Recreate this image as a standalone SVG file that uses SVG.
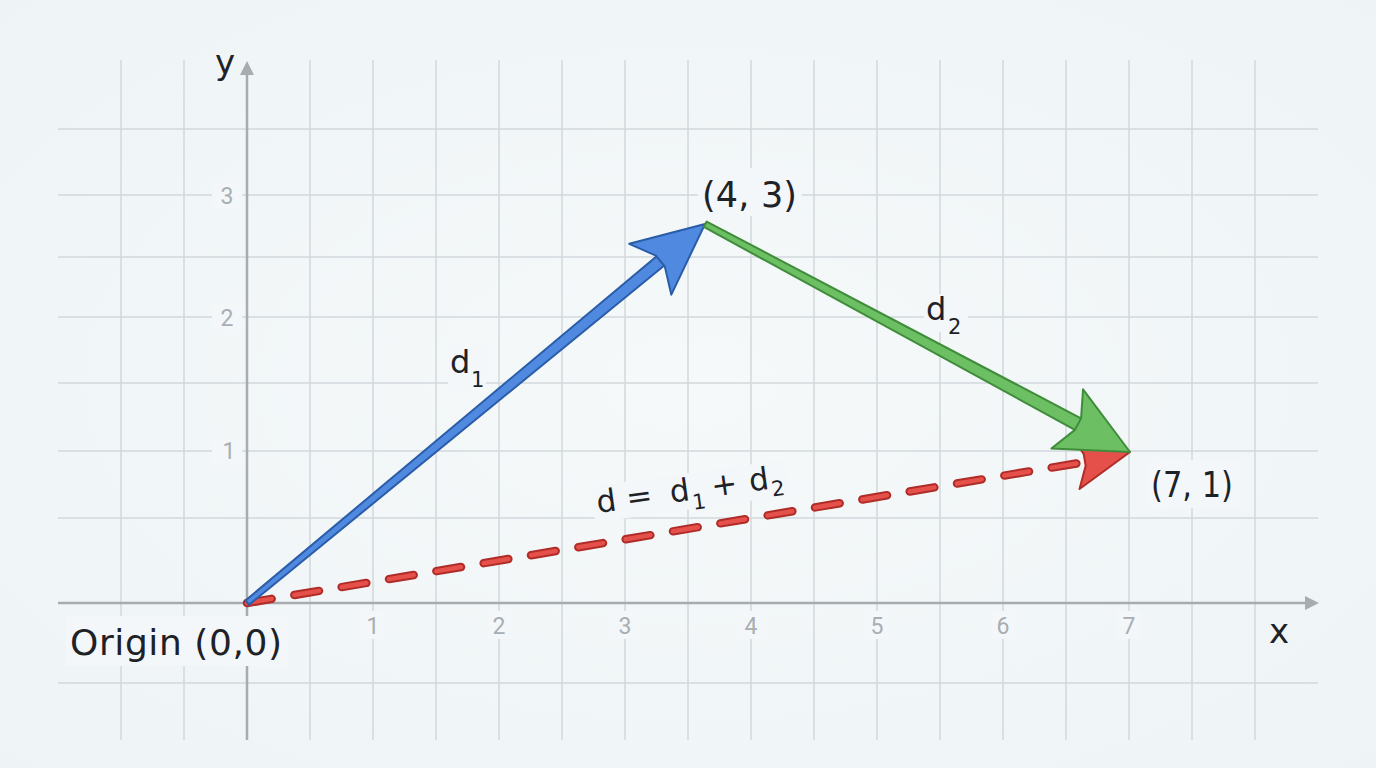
<svg xmlns="http://www.w3.org/2000/svg" width="1376" height="768" viewBox="0 0 1376 768">
<defs>
<radialGradient id="bg" cx="50%" cy="50%" r="75%">
<stop offset="0" stop-color="#f5f9fa"/>
<stop offset="1" stop-color="#eef3f5"/>
</radialGradient>
<style>
.grid{stroke:#d2d7db;stroke-width:1.5;fill:none}
.axis{stroke:#a7acb0;stroke-width:2.5;fill:none}
.axhead{fill:#a7acb0}
.tick{font-family:Roboto,"Liberation Sans",sans-serif;font-size:23px;fill:#a9aeb2;text-anchor:middle}
.lbl{font-family:"DejaVu Sans","Noto Sans",sans-serif;fill:#1e2226}
.bgr{fill:#f3f7f9}
.blue{fill:#4f8ae0;stroke:#2b5ca8;stroke-width:2;stroke-linejoin:round}
.green{fill:#6cbf62;stroke:#3f8d3a;stroke-width:2;stroke-linejoin:round}
.red{fill:#e6504a;stroke:#b02c28;stroke-width:2;stroke-linejoin:round}
</style>
</defs>
<rect width="1376" height="768" fill="url(#bg)"/>
<g id="grid">
<path class="grid" d="M121 60V740M184 60V740M310 60V740M373 60V740M436 60V740M499 60V740M562 60V740M625 60V740M688 60V740M751 60V740M814 60V740M877 60V740M940 60V740M1003 60V740M1066 60V740M1129 60V740M1192 60V740M1255 60V740"/>
<path class="grid" d="M58 129H1318M58 195H1318M58 257H1318M58 317H1318M58 383H1318M58 451H1318M58 518H1318M58 683H1318"/>
</g>
<g id="axes">
<line class="axis" x1="247" y1="740" x2="247" y2="74"/>
<polygon class="axhead" points="247,61 240,75 254,75"/>
<line class="axis" x1="58" y1="603" x2="1306" y2="603"/>
<polygon class="axhead" points="1319,603 1305,596 1305,610"/>
<text class="lbl" x="215" y="74" font-size="34">y</text>
<text class="lbl" x="1269" y="643" font-size="34">x</text>
</g>
<g id="ticks">
<rect class="bgr" x="212" y="183" width="30" height="26"/>
<rect class="bgr" x="212" y="305" width="30" height="26"/>
<rect class="bgr" x="212" y="439" width="30" height="26"/>
<text class="tick" x="227" y="204">3</text>
<text class="tick" x="227" y="326">2</text>
<text class="tick" x="229" y="459">1</text>
<rect class="bgr" x="361" y="611" width="24" height="28"/>
<rect class="bgr" x="487" y="611" width="24" height="28"/>
<rect class="bgr" x="613" y="611" width="24" height="28"/>
<rect class="bgr" x="739" y="611" width="24" height="28"/>
<rect class="bgr" x="865" y="611" width="24" height="28"/>
<rect class="bgr" x="991" y="611" width="24" height="28"/>
<rect class="bgr" x="1117" y="611" width="24" height="28"/>
<text class="tick" x="373" y="634">1</text>
<text class="tick" x="499" y="634">2</text>
<text class="tick" x="625" y="634">3</text>
<text class="tick" x="751" y="634">4</text>
<text class="tick" x="877" y="634">5</text>
<text class="tick" x="1003" y="634">6</text>
<text class="tick" x="1129" y="634">7</text>
</g>
<g id="connectors">
<g id="vec-d">
<line x1="247" y1="603" x2="1085" y2="462" stroke="#b02c28" stroke-width="8.5" stroke-linecap="round" stroke-dasharray="25 23"/>
<line x1="247" y1="603" x2="1085" y2="462" stroke="#e6504a" stroke-width="4.5" stroke-linecap="round" stroke-dasharray="25 23"/>
<g transform="translate(1130,452) rotate(-9.7)">
<polygon class="red" points="0,0 -56,-28 -46,-6 -46,6 -56,28"/>
</g>
</g>
<g id="vec-d1" transform="translate(705,224) rotate(-39.6)">
<polygon class="blue" points="-594,-2.8 -57,-6 -57,6 -594,2.8"/>
<polygon class="blue" points="0,0 -71,-33 -58,-7 -58,7 -71,33"/>
</g>
<g id="vec-d2" transform="translate(1130,452) rotate(28.2)">
<polygon class="green" points="-482,-3 -58,-6.5 -58,6.5 -482,3"/>
<polygon class="green" points="0,0 -71,-33 -59,-6.5 -59,6.5 -71,34"/>
</g>
</g>
<g id="label-d1">
<rect class="bgr" x="448" y="348" width="38" height="40"/>
<text class="lbl" x="450" y="373" font-size="32">d</text>
<text class="lbl" x="471" y="387" font-size="21">1</text>
</g>
<g id="label-d2">
<rect class="bgr" x="924" y="294" width="44" height="38"/>
<text class="lbl" x="926" y="320" font-size="32">d</text>
<text class="lbl" x="948" y="334" font-size="21">2</text>
</g>
<g id="label-d" transform="translate(598,513) rotate(-8)">
<rect class="bgr" x="-4" y="-27" width="196" height="36"/>
<text class="lbl" font-size="31"><tspan x="0" y="0">d</tspan><tspan x="30" y="0">=</tspan><tspan x="74" y="0">d</tspan><tspan x="95" y="10" font-size="21">1</tspan><tspan x="116" y="0">+</tspan><tspan x="154" y="0">d</tspan><tspan x="175" y="8" font-size="21">2</tspan></text>
</g>
<g id="node-43">
<rect class="bgr" x="698" y="168" width="104" height="48"/>
<text class="lbl" x="702" y="207" font-size="35" textLength="95" lengthAdjust="spacing">(4, 3)</text>
</g>
<g id="node-71">
<rect class="bgr" x="1147" y="460" width="92" height="48"/>
<text class="lbl" x="1151" y="497" font-size="35" textLength="82" lengthAdjust="spacingAndGlyphs">(7, 1)</text>
</g>
<g id="node-origin">
<rect class="bgr" x="66" y="616" width="222" height="50"/>
<text class="lbl" x="70" y="655" font-size="36" textLength="212" lengthAdjust="spacing">Origin (0,0)</text>
</g>
</svg>
